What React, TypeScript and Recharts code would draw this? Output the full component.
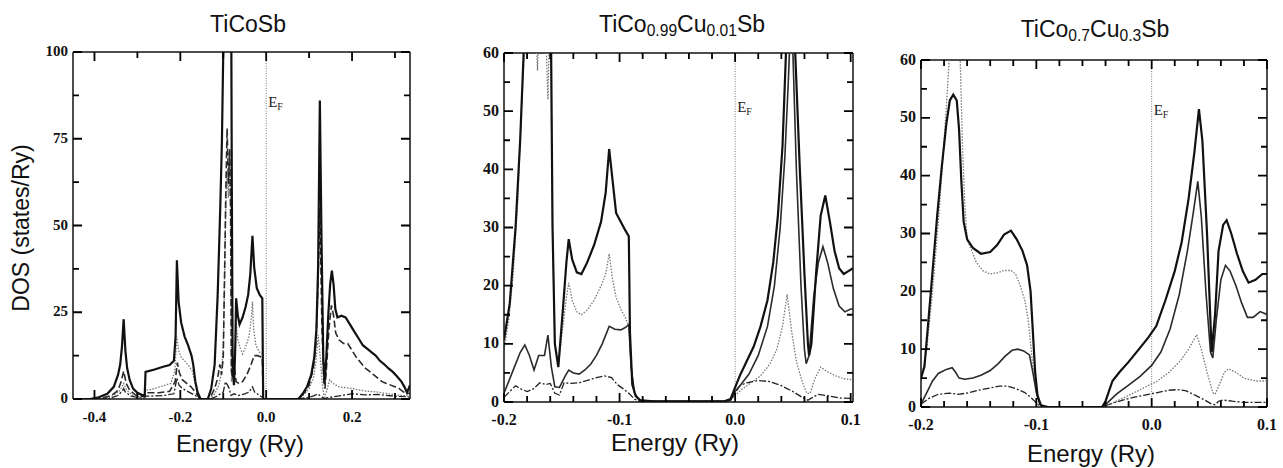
import React from 'react';
import { LineChart, Line, XAxis, YAxis, ReferenceLine } from 'recharts';

// ---------- TiCoSb ----------
const p1XTicks = [-0.4, -0.3, -0.2, -0.1, 0, 0.1, 0.2, 0.3];
const p1XLabels = [-0.4, -0.2, 0, 0.2];
const p1YTicks = [0, 12.5, 25, 37.5, 50, 62.5, 75, 87.5, 100];
const p1YLabels = [0, 25, 50, 75, 100];

const p1TotalE = [-0.45, -0.41, -0.39, -0.37, -0.355, -0.345, -0.34, -0.336, -0.332, -0.328, -0.324, -0.318, -0.31, -0.3, -0.29, -0.283, -0.281, -0.26, -0.24, -0.225, -0.215, -0.211, -0.208, -0.204, -0.198, -0.19, -0.182, -0.174, -0.17, -0.165, -0.16, -0.153, -0.136, -0.128, -0.12, -0.113, -0.107, -0.103, -0.1, -0.097, -0.082, -0.08, -0.078, -0.075, -0.072, -0.07, -0.066, -0.062, -0.055, -0.048, -0.042, -0.037, -0.032, -0.028, -0.022, -0.015, -0.009, -0.007, 0.075, 0.085, 0.095, 0.105, 0.112, 0.117, 0.121, 0.125, 0.129, 0.133, 0.136, 0.14, 0.145, 0.149, 0.153, 0.157, 0.161, 0.166, 0.175, 0.185, 0.195, 0.205, 0.215, 0.225, 0.235, 0.245, 0.255, 0.265, 0.275, 0.285, 0.295, 0.305, 0.315, 0.322, 0.328, 0.335];
const p1TotalDos = [0, 0, 0.5, 1.5, 3.5, 7, 10, 15, 23, 14, 9, 5.5, 3, 1.8, 1.2, 1, 7.8, 8.5, 9.3, 9.8, 11, 18, 40, 28, 22, 18, 15.5, 12.5, 10, 5, 2, 0, 0, 3, 10, 30, 55, 75, 100, 130, 130, 60, 8, 4, 15, 29, 24, 21.5, 23.5, 26.5, 30, 36, 47, 38, 32, 30, 29, 0, 0, 1.5, 3.5, 7, 12, 20, 38, 86, 45, 12, 4.5, 12, 25, 33, 37, 33, 26, 23.5, 24, 23.5, 21.5, 19.5, 17.5, 15.5, 14.5, 13.5, 12.5, 11, 10, 8.8, 7.8, 6.5, 5, 3.5, 1.8, 4];

const p1DashE = [-0.45, -0.39, -0.36, -0.345, -0.338, -0.332, -0.326, -0.318, -0.305, -0.29, -0.283, -0.281, -0.25, -0.225, -0.212, -0.207, -0.202, -0.195, -0.185, -0.175, -0.165, -0.157, -0.153, -0.132, -0.12, -0.113, -0.108, -0.104, -0.1, -0.097, -0.094, -0.091, -0.088, -0.085, -0.083, -0.081, -0.078, -0.074, -0.07, -0.064, -0.055, -0.045, -0.035, -0.028, -0.02, -0.009, -0.007, 0.075, 0.09, 0.1, 0.11, 0.116, 0.12, 0.125, 0.13, 0.134, 0.137, 0.141, 0.146, 0.152, 0.157, 0.162, 0.17, 0.18, 0.19, 0.2, 0.21, 0.22, 0.23, 0.24, 0.25, 0.26, 0.27, 0.28, 0.29, 0.3, 0.31, 0.32, 0.335];
const p1DashDos = [0, 0, 1, 2.5, 5, 8, 4.5, 2.5, 1.2, 0.8, 0.7, 1.8, 1.8, 2.2, 5, 10.5, 7.5, 5.5, 4.5, 3.5, 2, 0.5, 0, 0, 3, 6, 10, 7, 12, 35, 60, 78, 62, 72, 55, 8, 6, 9, 5, 4.5, 5, 7, 10, 12.5, 12.5, 12, 0, 0, 2, 4, 9, 16, 30, 55, 20, 6, 3, 10, 20, 27, 24, 19, 17, 16, 16, 14, 12, 10.5, 9, 8, 7, 6, 5, 4.5, 4, 3.5, 3, 2, 1.5];

const p1DotE = [-0.45, -0.38, -0.355, -0.34, -0.332, -0.325, -0.31, -0.29, -0.283, -0.281, -0.26, -0.24, -0.222, -0.213, -0.208, -0.204, -0.198, -0.19, -0.18, -0.172, -0.165, -0.158, -0.153, -0.132, -0.12, -0.11, -0.104, -0.1, -0.097, -0.094, -0.091, -0.088, -0.085, -0.083, -0.081, -0.077, -0.074, -0.07, -0.066, -0.06, -0.055, -0.048, -0.04, -0.034, -0.032, -0.029, -0.024, -0.016, -0.009, -0.007, 0.075, 0.09, 0.1, 0.11, 0.116, 0.121, 0.126, 0.131, 0.135, 0.14, 0.148, 0.155, 0.17, 0.2, 0.23, 0.26, 0.3, 0.335];
const p1DotDos = [0, 0, 1, 2.5, 4.5, 2.5, 1, 0.5, 0.5, 2.5, 3, 3.8, 4.5, 8, 18, 14, 12, 11, 9.5, 8, 4, 1, 0, 0, 1.5, 4, 8, 15, 35, 55, 65, 58, 70, 58, 5, 10, 6, 22, 17, 14.5, 13, 15, 18, 24, 28, 20, 15.5, 13.5, 13, 0, 0, 1.5, 3, 6, 11, 18.5, 12, 4, 0.5, 2, 5.5, 4.5, 3.5, 3, 2.3, 2, 1.2, 0.8];

const p1DashDotE = [-0.45, -0.37, -0.345, -0.334, -0.332, -0.328, -0.315, -0.29, -0.283, -0.281, -0.24, -0.215, -0.208, -0.203, -0.195, -0.18, -0.165, -0.155, -0.13, -0.115, -0.1, -0.095, -0.09, -0.086, -0.082, -0.075, -0.065, -0.05, -0.04, -0.032, -0.027, -0.015, -0.009, -0.007, 0.075, 0.1, 0.112, 0.12, 0.127, 0.135, 0.15, 0.2, 0.23, 0.26, 0.3, 0.335];
const p1DashDotDos = [0, 0, 1, 2.5, 3, 2, 0.8, 0.3, 0.3, 0.8, 1, 1.5, 6, 4, 3, 2, 1, 0, 0, 0.8, 2, 5, 4, 3, 1, 1.5, 1, 1.5, 2, 3.5, 2, 1, 0.5, 0, 0, 0.5, 1, 1.5, 0.8, 0.2, 0.5, 1.5, 1.2, 1.3, 0.8, 0.6];

// ---------- TiCo0.99Cu0.01Sb ----------
const p2XTicks = [-0.2, -0.18, -0.16, -0.14, -0.12, -0.1, -0.08, -0.06, -0.04, -0.02, 0, 0.02, 0.04, 0.06, 0.08, 0.1];
const p2XLabels = [-0.2, -0.1, 0, 0.1];
const p2YTicks = [0, 5, 10, 15, 20, 25, 30, 35, 40, 45, 50, 55, 60];
const p2YLabels = [0, 10, 20, 30, 40, 50, 60];

const p2TotalE = [-0.2, -0.195, -0.19, -0.186, -0.183, -0.18, -0.16, -0.158, -0.156, -0.153, -0.149, -0.146, -0.144, -0.141, -0.137, -0.133, -0.128, -0.122, -0.116, -0.112, -0.109, -0.106, -0.103, -0.099, -0.095, -0.092, -0.091, -0.089, -0.086, -0.082, -0.07, -0.01, -0.004, 0, 0.004, 0.01, 0.016, 0.022, 0.028, 0.033, 0.037, 0.041, 0.044, 0.046, 0.05, 0.052, 0.056, 0.06, 0.063, 0.064, 0.066, 0.07, 0.074, 0.078, 0.082, 0.086, 0.09, 0.094, 0.098, 0.102];
const p2TotalDos = [10.7, 17, 30, 45, 60, 80, 80, 30, 10, 6, 16, 24, 28, 24.5, 22.3, 22, 24, 27, 31, 36, 43.5, 38, 32.5, 31, 29.5, 28.5, 12, 3, 1, 0.3, 0.1, 0.1, 0.5, 2.5, 4.5, 7, 9.5, 13, 17.5, 24, 32, 44, 60, 80, 80, 60, 40, 22, 10, 8, 10, 22, 32, 35.5, 31, 26, 23, 22, 22.5, 23];

const p2SecondE = [-0.2, -0.193, -0.186, -0.182, -0.178, -0.174, -0.17, -0.165, -0.162, -0.159, -0.156, -0.152, -0.147, -0.144, -0.14, -0.135, -0.13, -0.125, -0.12, -0.115, -0.109, -0.104, -0.099, -0.095, -0.092, -0.09, -0.087, -0.083, -0.07, -0.01, -0.004, 0, 0.005, 0.012, 0.02, 0.028, 0.034, 0.039, 0.043, 0.046, 0.048, 0.05, 0.053, 0.057, 0.06, 0.0615, 0.064, 0.068, 0.072, 0.076, 0.08, 0.085, 0.09, 0.095, 0.1, 0.102];
const p2SecondDos = [1.5, 5, 8.5, 9.8, 8, 5.5, 8, 8, 11.5, 6, 2.6, 2.5, 4.5, 5.5, 5, 4.8, 5.5, 6.5, 8, 10, 13, 12.5, 12.4, 12.8, 13.3, 6, 1.5, 0.3, 0.1, 0.1, 0.3, 1.8, 3, 4.8, 8, 13, 20, 30, 42, 55, 65, 60, 40, 20, 9, 6.6, 8, 18, 24, 26.7, 24, 19.5, 16.5, 15.5, 16, 16];

const p2DotE = [-0.2, -0.196, -0.192, -0.188, -0.185, -0.182, -0.18, -0.178, -0.174, -0.171, -0.168, -0.165, -0.162, -0.16, -0.158, -0.156, -0.153, -0.149, -0.146, -0.144, -0.141, -0.137, -0.133, -0.128, -0.122, -0.116, -0.112, -0.109, -0.106, -0.103, -0.099, -0.095, -0.092, -0.09, -0.087, -0.083, -0.07, -0.01, -0.004, 0, 0.006, 0.015, 0.022, 0.03, 0.036, 0.041, 0.045, 0.049, 0.053, 0.058, 0.062, 0.065, 0.069, 0.074, 0.08, 0.087, 0.094, 0.102];
const p2DotDos = [9, 14, 22, 35, 50, 62, 59, 75, 70, 57, 75, 70, 52, 70, 30, 10, 6.5, 13, 18, 20.5, 17.5, 15.5, 15, 15.8, 17.5, 20, 22, 25.5, 21, 18, 16, 14.5, 13, 6, 1.5, 0.3, 0.1, 0.1, 0.3, 1.2, 2.2, 3.5, 4.5, 6.5, 9, 13, 18.5, 12, 7, 3.5, 1.5, 1.5, 4, 6, 5.2, 4.5, 4, 3.8];

const p2DashDotE = [-0.2, -0.195, -0.19, -0.185, -0.18, -0.175, -0.169, -0.164, -0.16, -0.156, -0.152, -0.148, -0.142, -0.135, -0.128, -0.12, -0.113, -0.107, -0.102, -0.097, -0.092, -0.087, -0.082, -0.01, -0.004, 0, 0.004, 0.01, 0.02, 0.03, 0.04, 0.05, 0.058, 0.063, 0.067, 0.072, 0.08, 0.09, 0.102];
const p2DashDotDos = [0.8, 1.8, 2.8, 2.2, 1.8, 2.2, 3.3, 3, 3.2, 1.5, 1.2, 3.3, 3.2, 3.3, 3.7, 4.2, 4.5, 4.2, 3, 2.3, 1.5, 0.5, 0.1, 0.1, 0.3, 1.5, 2.8, 3.3, 3.7, 3.5, 2.8, 1.8, 0.8, 0.3, 0.8, 1.3, 1.1, 0.7, 0.6];

// ---------- TiCo0.7Cu0.3Sb ----------
const p3XTicks = [-0.2, -0.18, -0.16, -0.14, -0.12, -0.1, -0.08, -0.06, -0.04, -0.02, 0, 0.02, 0.04, 0.06, 0.08, 0.1];
const p3XLabels = [-0.2, -0.1, 0, 0.1];
const p3YTicks = [0, 5, 10, 15, 20, 25, 30, 35, 40, 45, 50, 55, 60];
const p3YLabels = [0, 10, 20, 30, 40, 50, 60];

const p3TotalE = [-0.2, -0.197, -0.191, -0.186, -0.182, -0.178, -0.175, -0.172, -0.169, -0.167, -0.165, -0.163, -0.16, -0.155, -0.148, -0.14, -0.134, -0.128, -0.122, -0.117, -0.112, -0.108, -0.105, -0.103, -0.101, -0.099, -0.096, -0.09, -0.043, -0.04, -0.034, -0.028, -0.02, -0.011, -0.003, 0.004, 0.012, 0.02, 0.026, 0.032, 0.037, 0.041, 0.044, 0.048, 0.052, 0.055, 0.058, 0.062, 0.065, 0.069, 0.074, 0.079, 0.084, 0.09, 0.096, 0.1];
const p3TotalDos = [5, 7, 21, 33, 41.5, 49, 53, 54, 53, 48, 39, 32, 29, 27.5, 26.5, 26.8, 28, 29.8, 30.5, 29, 27, 24.5, 20, 13, 6, 2, 0.3, 0, 0, 1, 4.5, 6, 7.8, 10, 12, 14, 18.5, 23.5, 28.5, 36, 44, 51.5, 46, 30, 9.5, 16, 27, 31.5, 32.3, 30, 26.5, 23.5, 21.5, 22, 23, 23];

const p3SecondE = [-0.2, -0.195, -0.19, -0.185, -0.178, -0.173, -0.17, -0.167, -0.162, -0.155, -0.148, -0.14, -0.133, -0.127, -0.121, -0.116, -0.111, -0.106, -0.103, -0.1, -0.097, -0.094, -0.043, -0.038, -0.03, -0.02, -0.01, 0, 0.008, 0.016, 0.024, 0.031, 0.036, 0.04, 0.043, 0.047, 0.051, 0.053, 0.056, 0.06, 0.064, 0.068, 0.073, 0.078, 0.083, 0.088, 0.094, 0.1];
const p3SecondDos = [0.5, 2.5, 4.5, 5.8, 6.5, 6.8, 6, 5, 4.8, 5, 5.5, 6.3, 7.5, 8.8, 9.8, 10, 9.7, 9, 6, 2.5, 0.5, 0, 0, 0.8, 2.3, 3.8, 5.3, 7.2, 9.5, 13.5, 19.5, 27, 33.5, 39, 33, 20, 9.5, 8.5, 15, 22, 24.5, 23.5, 21, 18, 15.5, 15.5, 16.5, 16];

const p3DotE = [-0.2, -0.195, -0.19, -0.185, -0.181, -0.178, -0.175, -0.17, -0.166, -0.164, -0.162, -0.16, -0.157, -0.152, -0.146, -0.14, -0.134, -0.128, -0.122, -0.118, -0.114, -0.11, -0.107, -0.104, -0.101, -0.098, -0.095, -0.09, -0.043, -0.035, -0.025, -0.015, -0.005, 0.005, 0.015, 0.025, 0.032, 0.039, 0.043, 0.048, 0.053, 0.055, 0.059, 0.063, 0.067, 0.073, 0.08, 0.09, 0.1];
const p3DotDos = [4.5, 10, 20, 32, 43, 52, 62, 68, 60, 45, 35, 29, 27.5, 25, 23.5, 23, 23.2, 23.6, 23.6, 23, 21, 18.5, 15, 9, 4, 1, 0.2, 0, 0, 0.6, 1.5, 2.5, 3.5, 4.5, 6, 8, 10, 12.5, 10, 6, 2.5, 2.2, 4, 6, 6.6, 6, 5, 4.5, 4.5];

const p3DashDotE = [-0.2, -0.193, -0.185, -0.175, -0.168, -0.16, -0.15, -0.14, -0.132, -0.125, -0.118, -0.11, -0.104, -0.099, -0.095, -0.043, -0.035, -0.025, -0.015, -0.005, 0.005, 0.015, 0.022, 0.03, 0.038, 0.046, 0.052, 0.055, 0.058, 0.062, 0.07, 0.08, 0.09, 0.1];
const p3DashDotDos = [0.5, 1.5, 2.2, 2.4, 2.2, 2.4, 2.9, 3.3, 3.6, 3.6, 3.2, 2.5, 1.5, 0.5, 0, 0, 0.6, 1.2, 1.7, 2.1, 2.5, 2.9, 3, 2.8, 2, 1.2, 0.5, 0.4, 1, 1.2, 1, 0.8, 0.8, 0.8];

const zip = (e: number[], d: number[]) => e.map((v, i) => ({ e: v, dos: d[i] }));
const near = (list: number[], v: number) => list.some((t) => Math.abs(t - v) < 1e-6);

const SERIF = "'Liberation Serif', 'Times New Roman', serif";
const SANS = "'Liberation Sans', Arial, sans-serif";
const INK = '#111';
const MAJOR = 9;
const MINOR = 6;

// x tick: inward marks on the bottom and the top edge, label under the axis
const BottomTick = (props: any) => {
  const { x, y, payload, labels, plotH, fontSize } = props;
  const major = near(labels, payload.value);
  const len = major ? MAJOR : MINOR;
  return (
    <g>
      <path d={`M${x},${y}L${x},${y - len}M${x},${y - plotH}L${x},${y - plotH + len}`} stroke="#000" strokeWidth={1.8} fill="none" />
      {major && (
        <text x={x} y={y + 23} textAnchor="middle" fontFamily={SERIF} fontSize={fontSize} fontWeight="bold" fill={INK}>
          {Number(payload.value).toFixed(1)}
        </text>
      )}
    </g>
  );
};

// y tick: inward marks on the left and the right edge, label left of the axis
const LeftTick = (props: any) => {
  const { x, y, payload, labels, plotW, fontSize } = props;
  const major = near(labels, payload.value);
  const len = major ? MAJOR : MINOR;
  return (
    <g>
      <path d={`M${x},${y}L${x + len},${y}M${x + plotW},${y}L${x + plotW - len},${y}`} stroke="#000" strokeWidth={1.8} fill="none" />
      {major && (
        <text x={x - 5} y={y - 1} textAnchor="end" dominantBaseline="central" fontFamily={SERIF} fontSize={fontSize} fontWeight="bold" fill={INK}>
          {payload.value}
        </text>
      )}
    </g>
  );
};

const efLabel = (offset: number) => (p: any) => {
  const vb = p.viewBox || {};
  return (
    <text x={(vb.x ?? 0) + 2} y={(vb.y ?? 0) + offset} fontFamily={SERIF} fontSize={15} fill="#222">
      E<tspan fontSize={10} dy={3}>F</tspan>
    </text>
  );
};

type Pt = { e: number; dos: number };
type Series = { data: Pt[]; stroke: string; width: number; dash?: string };

const Panel = (props: any) => {
  const { left, width, height, margin, xDomain, yDomain, xTicks, xLabels, yTicks, yLabels, series, efOffset, fontSize } = props;
  const plotW = width - margin.left - margin.right - 45;
  const plotH = height - margin.top - margin.bottom - 30;
  const [, x1] = xDomain;
  const [, y1] = yDomain;

  return (
    <div style={{ position: 'absolute', left, top: 0 }}>
      <LineChart width={width} height={height} margin={margin}>
        <XAxis
          dataKey="e"
          type="number"
          domain={xDomain}
          allowDataOverflow
          ticks={xTicks}
          interval={0}
          height={30}
          tickSize={0}
          tickMargin={0}
          axisLine={{ stroke: INK, strokeWidth: 1.5 }}
          tickLine={false}
          tick={(p: any) => <BottomTick {...p} labels={xLabels} plotH={plotH} fontSize={fontSize} />}
        />
        <YAxis
          type="number"
          domain={yDomain}
          allowDataOverflow
          ticks={yTicks}
          interval={0}
          width={45}
          tickSize={0}
          tickMargin={0}
          axisLine={{ stroke: INK, strokeWidth: 1.5 }}
          tickLine={false}
          tick={(p: any) => <LeftTick {...p} labels={yLabels} plotW={plotW} fontSize={fontSize} />}
        />
        <ReferenceLine y={y1} stroke={INK} strokeWidth={1.5} ifOverflow="visible" />
        <ReferenceLine x={x1} stroke={INK} strokeWidth={1.5} ifOverflow="visible" />
        <ReferenceLine x={0} stroke="#777" strokeWidth={1} strokeDasharray="1 1.5" label={efLabel(efOffset)} />
        {series.map((s: Series, i: number) => (
          <Line
            key={i}
            data={s.data}
            dataKey="dos"
            type="linear"
            stroke={s.stroke}
            strokeWidth={s.width}
            strokeDasharray={s.dash}
            dot={false}
            activeDot={false}
            isAnimationActive={false}
          />
        ))}
      </LineChart>
    </div>
  );
};

const sub = { fontSize: '0.68em', verticalAlign: '-0.28em' } as const;

const TextAt = ({ cx, top, size, children }: any) => (
  <div
    style={{
      position: 'absolute',
      left: cx - 200,
      top,
      width: 400,
      textAlign: 'center',
      fontFamily: SANS,
      fontSize: size,
      lineHeight: 1,
      color: INK,
      whiteSpace: 'nowrap',
    }}
  >
    {children}
  </div>
);

const mkSeries = (total: Pt[], second: Pt[], dot: Pt[], dashDot: Pt[], secondDash?: string): Series[] => [
  { data: dashDot, stroke: '#222', width: 1.3, dash: '7 2 2 2' },
  { data: dot, stroke: '#777', width: 1.3, dash: '1.5 1.5' },
  { data: second, stroke: '#2a2a2a', width: 1.6, dash: secondDash },
  { data: total, stroke: INK, width: 2.2 },
];

export default function App() {
  const s1 = mkSeries(zip(p1TotalE, p1TotalDos), zip(p1DashE, p1DashDos), zip(p1DotE, p1DotDos), zip(p1DashDotE, p1DashDotDos), '7 3');
  const s2 = mkSeries(zip(p2TotalE, p2TotalDos), zip(p2SecondE, p2SecondDos), zip(p2DotE, p2DotDos), zip(p2DashDotE, p2DashDotDos));
  const s3 = mkSeries(zip(p3TotalE, p3TotalDos), zip(p3SecondE, p3SecondDos), zip(p3DotE, p3DotDos), zip(p3DashDotE, p3DashDotDos));
  return (
    <div style={{ position: 'absolute', left: 0, top: 0, width: 1283, height: 468, background: '#fff', overflow: 'hidden' }}>
      <Panel
        left={0}
        width={430}
        height={468}
        margin={{ top: 52, right: 20, left: 28, bottom: 39 }}
        xDomain={[-0.45, 0.335]}
        yDomain={[0, 100]}
        xTicks={p1XTicks}
        xLabels={p1XLabels}
        yTicks={p1YTicks}
        yLabels={p1YLabels}
        series={s1}
        efOffset={55}
        fontSize={15}
      />
      <Panel
        left={430}
        width={440}
        height={468}
        margin={{ top: 53, right: 17, left: 29, bottom: 36 }}
        xDomain={[-0.2, 0.102]}
        yDomain={[0, 60]}
        xTicks={p2XTicks}
        xLabels={p2XLabels}
        yTicks={p2YTicks}
        yLabels={p2YLabels}
        series={s2}
        efOffset={59}
        fontSize={16}
      />
      <Panel
        left={870}
        width={413}
        height={468}
        margin={{ top: 60, right: 16, left: 6, bottom: 31 }}
        xDomain={[-0.2, 0.1]}
        yDomain={[0, 60]}
        xTicks={p3XTicks}
        xLabels={p3XLabels}
        yTicks={p3YTicks}
        yLabels={p3YLabels}
        series={s3}
        efOffset={55}
        fontSize={16}
      />

      <TextAt cx={248} top={13} size={23}>TiCoSb</TextAt>
      <TextAt cx={682} top={13} size={23}>
        TiCo<span style={sub}>0.99</span>Cu<span style={sub}>0.01</span>Sb
      </TextAt>
      <TextAt cx={1095} top={18} size={23}>
        TiCo<span style={sub}>0.7</span>Cu<span style={sub}>0.3</span>Sb
      </TextAt>

      <TextAt cx={240} top={432} size={24}>Energy (Ry)</TextAt>
      <TextAt cx={675} top={431} size={24}>Energy (Ry)</TextAt>
      <TextAt cx={1091} top={442} size={24}>Energy (Ry)</TextAt>

      <div
        style={{
          position: 'absolute',
          left: 21,
          top: 228,
          transform: 'translate(-50%, -50%) rotate(-90deg)',
          fontFamily: SANS,
          fontSize: 23,
          lineHeight: 1,
          color: INK,
          whiteSpace: 'nowrap',
        }}
      >
        DOS (states/Ry)
      </div>
    </div>
  );
}
